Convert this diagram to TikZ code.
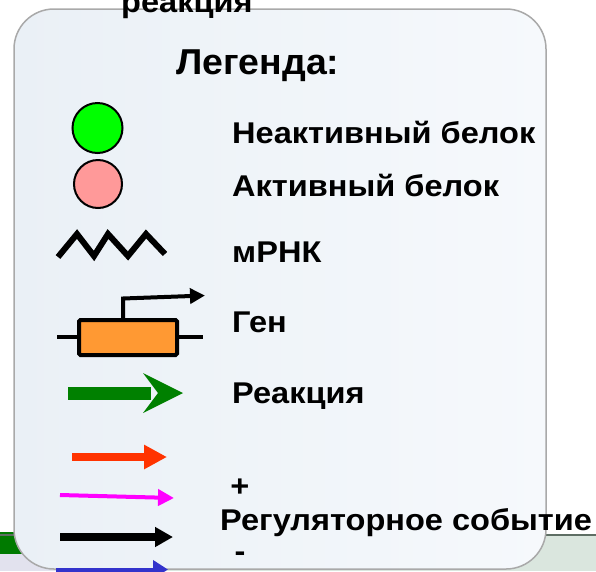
\documentclass[tikz,border=0pt]{standalone}
\usepackage{fontspec}
\setmainfont{Liberation Sans}
\usetikzlibrary{arrows.meta}
\definecolor{boxL}{HTML}{EAF0F6}
\definecolor{boxR}{HTML}{F6F9FC}
\definecolor{boxEdge}{HTML}{A9A9A9}
\definecolor{bandFill}{HTML}{DAE6DE}
\definecolor{bandLine}{HTML}{5E6E64}
\definecolor{blobGreen}{HTML}{007A00}
\definecolor{lav}{HTML}{E2E2EE}
\definecolor{inGreen}{HTML}{00FF00}
\definecolor{acPink}{HTML}{FF9999}
\definecolor{geneOrange}{HTML}{FF9933}
\definecolor{reactGreen}{HTML}{008000}
\definecolor{regRed}{HTML}{FF3300}
\definecolor{regMag}{HTML}{FF00FF}
\definecolor{regBlue}{HTML}{3333CC}
\newcommand{\wide}[1]{\scalebox{1.085}[1]{#1}}
\newcommand{\widet}[1]{\scalebox{1.04}[1]{#1}}
\tikzset{
  lbl/.style={anchor=base west, inner sep=0pt, font=\bfseries\fontsize{30}{32}\selectfont},
  ttl/.style={anchor=base west, inner sep=0pt, font=\bfseries\fontsize{36}{38}\selectfont},
  protein/.style={circle, draw=black, line width=2pt, minimum size=50pt, inner sep=0pt},
  blk/.style={draw=black, line width=4pt},
}
\begin{document}
\begin{tikzpicture}[x=1pt,y=-1pt]
\useasboundingbox (0,0) rectangle (596,571);
\fill[white] (0,0) rectangle (596,571);
% bottom band
\fill[bandFill] (0,535) rectangle (596,571);
\fill[lav] (0,553) rectangle (60,571);
\fill[blobGreen] (0,532) rectangle (22,554);
\draw[bandLine, line width=1.5pt] (0,535) -- (596,535);
% legend box
\shade[left color=boxL, right color=boxR, rounded corners=40pt] (14,9) rectangle (546,569);
\draw[boxEdge, line width=1.5pt, rounded corners=40pt] (14,9) rectangle (546,569);
% cut-off title above
\node[lbl] (reac) at (121,12) {\wide{реакция}};
\node[ttl] (title) at (176,74) {\widet{Легенда:}};
% proteins
\node[protein, fill=inGreen] (inact) at (97.5,128) {};
\node[protein, fill=acPink, minimum size=48pt] (act) at (98,184) {};
\node[lbl] (tInact) at (232,143) {\wide{Неактивный белок}};
\node[lbl] (tAct) at (232,196) {\wide{Активный белок}};
% mRNA
\draw[black, line width=6pt, line join=miter] (58,257) -- (77,234) -- (94,256) -- (108,234) -- (128,256) -- (146,234) -- (165,254);
\node[lbl] (tmrna) at (232,262) {\wide{мРНК}};
% gene
\coordinate (gL) at (57,337);
\coordinate (gR) at (203,337);
\draw[blk] (gL) -- (79,337);
\draw[blk] (177,337) -- (gR);
\node[draw=black, line width=4pt, fill=geneOrange, rounded corners=1.5pt, minimum width=98pt, minimum height=35pt, inner sep=0pt] (gene) at (128,337.5) {};
\coordinate (pr0) at (123,318);
\coordinate (pr1) at (205,295.5);
\draw[blk, -{Triangle[length=15pt,width=15pt]}] (pr0) -- (123,298.5) -- (pr1);
\node[lbl] (tgene) at (232,332) {\wide{Ген}};
% reaction arrow
\fill[reactGreen] (68,386.5) rectangle (151,399.5);
\fill[reactGreen] (143,373) -- (183,393) -- (143,413) -- (158,393) -- cycle;
\node[lbl] (treac) at (232,403) {\wide{Реакция}};
% regulatory arrows
\coordinate (r0) at (72,457); \coordinate (r1) at (167,457);
\draw[regRed, line width=8.5pt, -{Triangle[length=23pt,width=23pt]}] (r0) -- (r1);
\coordinate (m0) at (60,495); \coordinate (m1) at (174,498);
\draw[regMag, line width=4pt, -{Triangle[length=16pt,width=16pt]}] (m0) -- (m1);
\coordinate (k0) at (60,537); \coordinate (k1) at (173,537);
\draw[black, line width=8.5pt, -{Triangle[length=18pt,width=19pt]}] (k0) -- (k1);
\coordinate (b0) at (56,569.5); \coordinate (b1) at (168,569.5);
\draw[regBlue, line width=4pt, -{Triangle[length=15pt,width=18pt]}] (b0) -- (b1);
\node[lbl, anchor=center] (plus) at (240,488) {\wide{+}};
\node[lbl] (treg) at (220,530) {\wide{Регуляторное событие}};
\node[lbl, anchor=center] (minus) at (240,557) {\wide{-}};
\end{tikzpicture}
\end{document}
